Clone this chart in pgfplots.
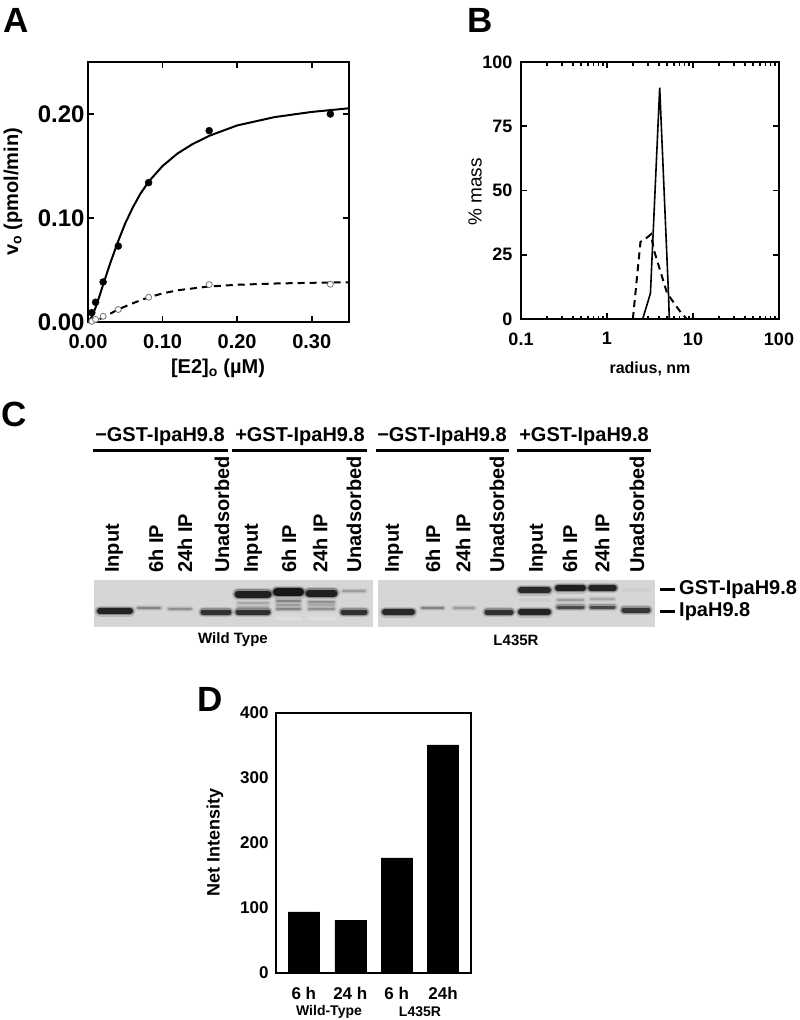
\documentclass[border=0pt]{standalone}
\usepackage{fontspec}
\setmainfont{Liberation Sans}
\usepackage{pgfplots}
\pgfplotsset{compat=1.18}
\newcommand\fs[1]{\fontsize{#1}{#1}\selectfont}
\definecolor{gelbg}{RGB}{214,214,214}
\pgfplotsset{
  panel/.style={scale only axis, clip=false,
    axis line style={line width=2pt},
    tick style={line width=1.6pt, black},
    tick align=inside, major tick length=6pt, minor tick length=3.5pt},
}
% band: x1, x2, y, width, darkness
\newcommand\band[5]{%
  \addplot[black!#5, line width=#4pt+5pt, line cap=round, opacity=0.15] coordinates {(#1,#3) (#2,#3)};
  \addplot[black!#5, line width=#4pt+2.5pt, line cap=round, opacity=0.3] coordinates {(#1,#3) (#2,#3)};
  \addplot[black!#5, line width=#4pt, line cap=round, opacity=0.9] coordinates {(#1,#3) (#2,#3)};
}
\begin{document}
\begin{tikzpicture}
\path[use as bounding box] (0pt,0pt) rectangle (800pt,-1020pt);

% ---------------- A ----------------
\node[font=\bfseries\fs{35}] at (16pt,-20pt) {A};
\begin{axis}[panel, at={(88pt,-322pt)}, anchor=south west,
    width=261pt, height=260pt,
    xmin=0, xmax=0.35, ymin=0, ymax=0.25,
    xtick={0,0.1,0.2,0.3}, xticklabels={0.00,0.10,0.20,0.30},
    ytick={0,0.1,0.2}, yticklabels={0.00,0.10,0.20},
    x tick label style={font=\bfseries\fs{20}, yshift=-9pt},
    y tick label style={font=\bfseries\fs{24}}]
  \addplot[black, line width=2pt, dash pattern=on 7pt off 5pt] coordinates {
    (0,0) (0.01,0.0015) (0.02,0.004) (0.03,0.008) (0.04,0.012) (0.06,0.018)
    (0.08,0.0235) (0.10,0.0275) (0.12,0.0305) (0.16,0.034) (0.20,0.0358)
    (0.25,0.037) (0.30,0.0377) (0.35,0.0382)};
  \addplot[only marks, mark=*, mark size=3pt, mark options={draw=black!55, fill=white, line width=0.8pt}] coordinates {
    (0.0051,0.0006) (0.0102,0.0025) (0.0203,0.0055) (0.0406,0.012)
    (0.0813,0.0238) (0.1625,0.036) (0.325,0.0363)};
  \addplot[black, line width=2pt] coordinates {
    (0,0) (0.0051,0.005) (0.0102,0.014) (0.015,0.024) (0.0203,0.036) (0.03,0.057)
    (0.0406,0.078) (0.05,0.095) (0.06,0.110) (0.07,0.123) (0.0813,0.135)
    (0.10,0.150) (0.12,0.162) (0.14,0.171) (0.1625,0.179) (0.20,0.189)
    (0.25,0.197) (0.30,0.202) (0.35,0.2055)};
  \addplot[only marks, mark=*, mark size=3.5pt, black] coordinates {
    (0.0051,0.009) (0.0102,0.019) (0.0203,0.0385) (0.0406,0.073)
    (0.0813,0.134) (0.1625,0.184) (0.325,0.200)};
\end{axis}
\node[font=\bfseries\fs{20}, rotate=90] at (13pt,-192pt) {v\textsubscript{o} (pmol/min)};
\node[font=\bfseries\fs{20}] at (218pt,-368pt) {[E2]\textsubscript{o} (µM)};

% ---------------- B ----------------
\node[font=\bfseries\fs{35}] at (480pt,-20pt) {B};
\begin{axis}[panel, at={(521pt,-319pt)}, anchor=south west,
    width=258pt, height=257pt,
    xmode=log, xmin=0.1, xmax=100, ymin=0, ymax=100,
    xtick={0.1,1,10,100}, xticklabels={0.1,1,10,100},
    minor xtick={0.2,0.3,0.4,0.5,0.6,0.7,0.8,0.9,2,3,4,5,6,7,8,9,20,30,40,50,60,70,80,90},
    ytick={0,25,50,75,100}, yticklabels={0,25,50,75,100},
    ticklabel style={font=\bfseries\fs{18}},
    xticklabel style={yshift=-10pt},
    yticklabel style={xshift=-5pt}]
  \addplot[black, line width=2pt, dash pattern=on 7pt off 5pt] coordinates {
    (2.0,0) (2.45,30) (3.0,32) (3.25,33) (3.5,27) (5.0,10) (7.3,2.3) (8.5,0)};
  \addplot[black, line width=1.6pt] coordinates {
    (2.6,0) (3.2,10) (4.1,90) (5.2,9) (5.3,0)};
\end{axis}
\node[font=\fs{19}, rotate=90] at (475pt,-192pt) {\% mass};
\node[font=\bfseries\fs{16}] at (650pt,-369pt) {radius, nm};

% ---------------- C ----------------
\node[font=\bfseries\fs{35}] at (14pt,-414pt) {C};
\begin{axis}[at={(0pt,-380pt)}, anchor=north west, scale only axis,
    width=800pt, height=280pt, xmin=0, xmax=800, ymin=380, ymax=660,
    y dir=reverse, hide axis, clip=false]
  % gel backgrounds
  \addplot[fill=gelbg, draw=none] coordinates {(94,580) (373,580) (373,627) (94,627)};
  \addplot[fill=gelbg, draw=none] coordinates {(378,580) (655,580) (655,627) (378,627)};
  % left gel (wild type)
  \band{100}{130}{611}{6}{90}
  \band{138}{160}{608}{1.5}{50}
  \band{169}{191}{609}{1.5}{45}
  \band{140}{158}{600}{2}{15}
  \band{171}{189}{600}{2}{15}
  \band{203}{229}{612}{5}{85}
  \band{238}{268}{594}{7}{92}
  \band{238}{268}{603}{1.2}{35}
  \band{238}{268}{607}{1.2}{30}
  \band{238}{268}{612}{5}{85}
  \band{277}{300}{592}{8}{95}
  \band{277}{300}{601}{1.5}{50}
  \band{277}{300}{605}{1.2}{40}
  \band{277}{300}{609}{1.5}{50}
  \band{277}{300}{618}{3}{12}
  \band{309}{334}{593}{7}{92}
  \band{309}{334}{602}{1.5}{45}
  \band{309}{334}{605}{1.2}{35}
  \band{309}{334}{609}{1.5}{45}
  \band{309}{334}{618}{3}{12}
  \band{343}{365}{591}{1.2}{40}
  \band{343}{365}{612}{5}{85}
  % right gel (L435R)
  \band{385}{412}{612}{6}{88}
  \band{422}{443}{608}{1.5}{50}
  \band{454}{474}{608}{1.5}{40}
  \band{487}{511}{612}{5}{85}
  \band{521}{548}{590}{6}{88}
  \band{521}{548}{600}{1.2}{20}
  \band{521}{548}{612}{6}{90}
  \band{558}{583}{588}{6}{92}
  \band{558}{583}{600}{1.5}{40}
  \band{558}{583}{607}{3}{75}
  \band{591}{614}{588}{5.5}{90}
  \band{591}{614}{599}{1.5}{35}
  \band{591}{614}{607}{3}{75}
  \band{624}{648}{590}{1.2}{20}
  \band{624}{648}{610}{5}{82}
  % header
  \draw[line width=3pt] (axis cs:93,450) -- (axis cs:228,450);
  \draw[line width=3pt] (axis cs:232,450) -- (axis cs:367,450);
  \draw[line width=3pt] (axis cs:376,450) -- (axis cs:509,450);
  \draw[line width=3pt] (axis cs:517,450) -- (axis cs:651,450);
  \begin{scope}[every node/.style={font=\bfseries\fs{20}}]
  \node at (axis cs:160,437) {−GST-IpaH9.8};
  \node at (axis cs:300,437) {+GST-IpaH9.8};
  \node at (axis cs:442,437) {−GST-IpaH9.8};
  \node at (axis cs:584,437) {+GST-IpaH9.8};
  \end{scope}
  \begin{scope}[every node/.style={font=\bfseries\fs{20}, rotate=90, anchor=west, inner sep=0pt}]
  \node at (axis cs:114,573) {Input};
  \node at (axis cs:156,573) {6h IP};
  \node at (axis cs:185,573) {24h IP};
  \node at (axis cs:222,573) {Unadsorbed};
  \node at (axis cs:253,573) {Input};
  \node at (axis cs:289,573) {6h IP};
  \node at (axis cs:320,573) {24h IP};
  \node at (axis cs:354,573) {Unadsorbed};
  \node at (axis cs:394,573) {Input};
  \node at (axis cs:433,573) {6h IP};
  \node at (axis cs:463,573) {24h IP};
  \node at (axis cs:497,573) {Unadsorbed};
  \node at (axis cs:538,573) {Input};
  \node at (axis cs:570,573) {6h IP};
  \node at (axis cs:602,573) {24h IP};
  \node at (axis cs:637,573) {Unadsorbed};
  \end{scope}
  % band markers
  \draw[line width=3pt] (axis cs:660,589) -- (axis cs:675,589);
  \draw[line width=3pt] (axis cs:660,611) -- (axis cs:675,611);
  \node[font=\bfseries\fs{20}, anchor=west, inner sep=0pt] at (axis cs:679,590) {GST-IpaH9.8};
  \node[font=\bfseries\fs{20}, anchor=west, inner sep=0pt] at (axis cs:679,612) {IpaH9.8};
  \node[font=\bfseries\fs{15}] at (axis cs:233,640) {Wild Type};
  \node[font=\bfseries\fs{15}] at (axis cs:516,640) {L435R};
\end{axis}

% ---------------- D ----------------
\node[font=\bfseries\fs{35}] at (210pt,-699pt) {D};
\begin{axis}[panel, at={(276pt,-973pt)}, anchor=south west,
    width=195pt, height=260pt,
    ybar, bar width=31pt,
    xmin=0.4, xmax=4.6, ymin=0, ymax=400,
    xtick={1,2,3,4}, xticklabels={6 h,24 h,6 h,24h},
    ytick={0,100,200,300,400}, yticklabels={0,100,200,300,400},
    major tick length=0pt,
    x tick label style={font=\bfseries\fs{17}, yshift=-11pt},
    y tick label style={font=\bfseries\fs{17}, xshift=-4pt}]
  \addplot[fill=black, draw=black] coordinates {(1,94) (2,81) (3,177) (4,351)};
\end{axis}
\node[font=\bfseries\fs{18}, rotate=90] at (215pt,-842pt) {Net Intensity};
\node[font=\bfseries\fs{14}] at (329pt,-1012pt) {Wild-Type};
\node[font=\bfseries\fs{14}] at (420pt,-1012pt) {L435R};
\end{tikzpicture}
\end{document}
